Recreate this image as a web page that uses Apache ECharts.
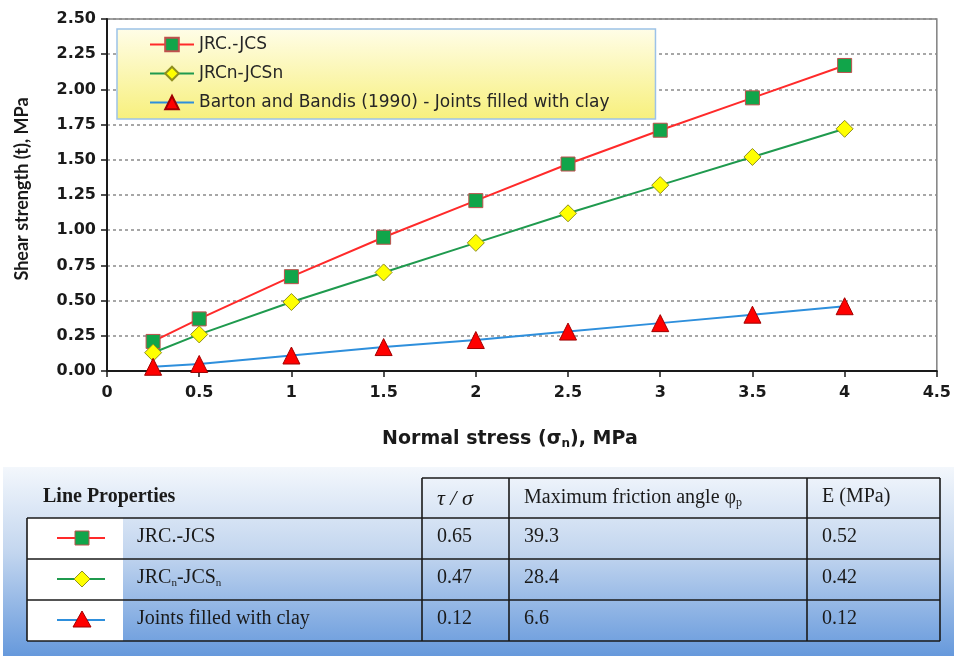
<!DOCTYPE html>
<html><head><meta charset="utf-8">
<script src="https://cdn.jsdelivr.net/npm/echarts@6/dist/echarts.min.js"></script>
<style>html,body{margin:0;padding:0;background:#fff}#c{width:954px;height:656px}</style>
</head><body><div id="c"></div>
<script>
// ---- data ----
const normalStress = [0.25, 0.5, 1, 1.5, 2, 2.5, 3, 3.5, 4];
const jrcJcs = [0.21, 0.37, 0.67, 0.95, 1.21, 1.47, 1.71, 1.94, 2.17];
const jrcnJcsn = [0.13, 0.26, 0.49, 0.70, 0.91, 1.12, 1.32, 1.52, 1.72];
const bartonClay = [0.03, 0.05, 0.11, 0.17, 0.22, 0.28, 0.34, 0.40, 0.46];
const seriesNames = ['JRC.-JCS', 'JRCn-JCSn', 'Barton and Bandis (1990) - Joints filled with clay'];
const yTicks = ['0.00','0.25','0.50','0.75','1.00','1.25','1.50','1.75','2.00','2.25','2.50'];
const xTicks = ['0','0.5','1','1.5','2','2.5','3','3.5','4','4.5'];
// table
const tableHeaders = ['Line Properties', 'τ / σ', 'Maximum friction angle φp', 'E (MPa)'];
const tableNames = ['JRC.-JCS', 'JRCn-JCSn', 'Joints filled with clay'];
const tauSigma = ['0.65', '0.47', '0.12'];
const frictionAngle = ['39.3', '28.4', '6.6'];
const modulusE = ['0.52', '0.42', '0.12'];

const pairs = arr => normalStress.map((x, i) => [x, arr[i]]);

const styles = [
  {line: '#ff2a2a', fill: '#11a54a', border: '#c0504d', symbol: 'rect', size: 14},
  {line: '#1f9a4e', fill: '#ffff00', border: '#8f8f20', symbol: 'diamond', size: [17, 17]},
  {line: '#2e8fdc', fill: '#ff0000', border: '#a00000', symbol: 'triangle', size: 17}
];
const values = [jrcJcs, jrcnJcsn, bartonClay];

const chartFont = 'DejaVu Sans';
const serif = 'Liberation Serif';
const tf = 20;

const chart = echarts.init(document.getElementById('c'), null, {renderer: 'canvas'});

// ---- table graphics ----
const T = {x0: 27, x1: 123, x2: 422, x3: 509, x4: 807, x5: 940, yH: 478, rows: [518, 559, 600, 641]};
const g = [];
g.push({type: 'rect', shape: {x: 3, y: 467, width: 951, height: 189}, z: 0,
  style: {fill: new echarts.graphic.LinearGradient(0, 0, 0, 1, [
    {offset: 0, color: '#f3f7fc'}, {offset: 0.45, color: '#c3d6ef'}, {offset: 1, color: '#6699dc'}])}});
for (let r = 0; r < 3; r++) {
  g.push({type: 'rect', shape: {x: T.x0, y: T.rows[r], width: T.x1 - T.x0, height: T.rows[r + 1] - T.rows[r]}, style: {fill: '#ffffff'}, z: 1});
}
const lineStyleT = {stroke: '#1a1a1a', lineWidth: 1.6};
const hl = (x1, x2, y) => g.push({type: 'line', z: 3, shape: {x1, y1: y, x2, y2: y}, style: lineStyleT});
const vl = (x, y1, y2) => g.push({type: 'line', z: 3, shape: {x1: x, y1, x2: x, y2}, style: lineStyleT});
hl(T.x2, T.x5, T.yH);
T.rows.forEach(y => hl(T.x0, T.x5, y));
vl(T.x0, T.rows[0], T.rows[3]);
[T.x2, T.x3, T.x4, T.x5].forEach(x => vl(x, T.yH, T.rows[3]));

const txt = (text, x, y, extra) => g.push({type: 'text', z: 4, x, y,
  style: Object.assign({text, fill: '#1a1a1a', font: tf + 'px "' + serif + '"', textVerticalAlign: 'middle'}, extra || {})});
txt(tableHeaders[0], 43, 497, {font: 'bold ' + tf + 'px "' + serif + '"'});
txt(tableHeaders[1], 437, 499, {font: 'italic 22px "' + serif + '"'});
g.push({type: 'text', z: 4, x: 524, y: 498, style: {
  text: '{a|Maximum friction angle φ}{s|p}', fill: '#1a1a1a', textVerticalAlign: 'middle',
  rich: {a: {font: tf + 'px "' + serif + '"', fill: '#1a1a1a'}, s: {font: '12px "' + serif + '"', fill: '#1a1a1a', padding: [10, 0, 0, 0]}}}});
txt(tableHeaders[3], 822, 497);
const rowMid = [537, 578, 619];
for (let r = 0; r < 3; r++) {
  if (r === 1) {
    g.push({type: 'text', z: 4, x: 137, y: rowMid[r], style: {
      text: '{a|JRC}{s|n}{a|-JCS}{s|n}', textVerticalAlign: 'middle',
      rich: {a: {font: tf + 'px "' + serif + '"', fill: '#1a1a1a'}, s: {font: '11px "' + serif + '"', fill: '#1a1a1a', padding: [10, 0, 0, 0]}}}});
  } else {
    txt(tableNames[r], 137, rowMid[r]);
  }
  txt(tauSigma[r], 437, rowMid[r]);
  txt(frictionAngle[r], 524, rowMid[r]);
  txt(modulusE[r], 822, rowMid[r]);
  const s = styles[r];
  const cy = rowMid[r] + 1;
  g.push({type: 'line', z: 5, shape: {x1: 57, y1: cy, x2: 105, y2: cy}, style: {stroke: s.line, lineWidth: 2}});
  const sym = r === 0 ? {type: 'rect', shape: {x: 75, y: cy - 7, width: 14, height: 14}}
    : r === 1 ? {type: 'polygon', shape: {points: [[82, cy - 8], [90, cy], [82, cy + 8], [74, cy]]}}
    : {type: 'polygon', shape: {points: [[82, cy - 9], [91, cy + 7], [73, cy + 7]]}};
  sym.z = 6; sym.style = {fill: s.fill, stroke: s.border, lineWidth: 1};
  g.push(sym);
}

const option = {
  animation: false,
  backgroundColor: '#ffffff',
  textStyle: {fontFamily: chartFont},
  grid: {left: 107, right: 15, top: 19, bottom: 285, show: true, borderColor: '#808080', borderWidth: 1.5},
  legend: {
    left: 117, top: 29, orient: 'vertical',
    padding: [7, 46, 8, 32], itemGap: 12, itemWidth: 44, itemHeight: 17,
    backgroundColor: new echarts.graphic.LinearGradient(0, 0, 0, 1, [
      {offset: 0, color: '#fffde8'}, {offset: 1, color: '#f7f07c'}]),
    borderColor: '#9cc2e8', borderWidth: 1.5,
    textStyle: {fontFamily: chartFont, fontSize: 17, color: '#262626'},
    data: seriesNames
  },
  xAxis: {
    type: 'value', min: 0, max: 4.5, interval: 0.5,
    name: '{a|Normal stress (σ}{s|n}{a|), MPa}', nameLocation: 'middle', nameGap: 57,
    nameTextStyle: {padding: [0, 24, 0, 0], rich: {a: {fontFamily: chartFont, fontWeight: 'bold', fontSize: 19, color: '#1a1a1a'},
      s: {fontFamily: chartFont, fontWeight: 'bold', fontSize: 12, color: '#1a1a1a', padding: [10, 0, 0, 0]}}},
    axisLine: {lineStyle: {color: '#1a1a1a', width: 2}},
    axisTick: {show: true, length: 6, lineStyle: {color: '#1a1a1a', width: 1.5}},
    axisLabel: {fontFamily: chartFont, fontWeight: 'bold', fontSize: 16, color: '#1a1a1a', margin: 14,
      formatter: v => xTicks[Math.round(v / 0.5)]},
    splitLine: {show: false}
  },
  yAxis: {
    type: 'value', min: 0, max: 2.5, interval: 0.25,
    name: 'Shear strength (t), MPa', nameLocation: 'middle', nameGap: 76,
    nameTextStyle: {fontFamily: 'Lato', fontWeight: 'bold', fontSize: 18, color: '#1a1a1a', padding: [0, 0, 0, 12]},
    axisLine: {show: true, lineStyle: {color: '#1a1a1a', width: 2}},
    axisTick: {show: true, length: 6, lineStyle: {color: '#1a1a1a', width: 1.5}},
    axisLabel: {fontFamily: chartFont, fontWeight: 'bold', fontSize: 16, color: '#1a1a1a', margin: 11,
      formatter: v => yTicks[Math.round(v / 0.25)]},
    splitLine: {show: true, lineStyle: {color: '#8a8a8a', type: [3, 3], width: 1.5}}
  },
  series: values.map((arr, i) => ({
    name: seriesNames[i], type: 'line', data: pairs(arr),
    symbol: styles[i].symbol, symbolSize: styles[i].size, showAllSymbol: true,
    lineStyle: {color: styles[i].line, width: 2},
    itemStyle: {color: styles[i].fill, borderColor: styles[i].border, borderWidth: 1},
    z: 3 + i
  })),
  graphic: g
};
chart.setOption(option);
</script></body></html>
